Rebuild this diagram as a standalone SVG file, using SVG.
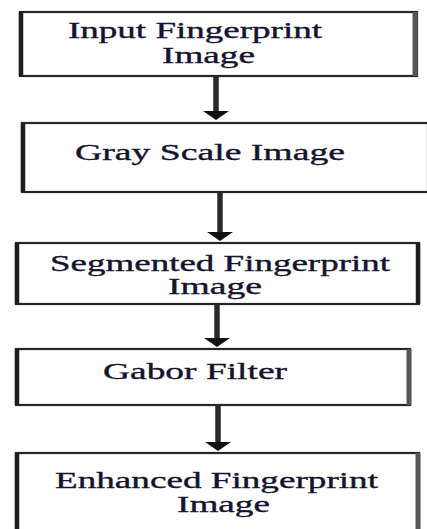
<svg xmlns="http://www.w3.org/2000/svg" width="427" height="529" viewBox="0 0 427 529">
<defs>
<style>
.box{fill:#ffffff;stroke:#262626;stroke-width:2.2}
.lb{stroke:#1e1e1e;stroke-width:4.5}
.rb{stroke:#555555;stroke-width:5}
.lbl{font-family:"Liberation Serif","Times New Roman",serif;font-size:23px;fill:#14142e;stroke:#14142e;stroke-width:0.35}
.shaft{stroke:#2a2a2a;stroke-width:5.5}
.head{fill:#111111}
</style>
</defs>
<rect width="427" height="529" fill="#ffffff"/>
<g id="connectors">
<line class="shaft" x1="216" y1="77" x2="216" y2="112"/>
<polygon class="head" points="203,111 229,111 216,120"/>
<line class="shaft" x1="220" y1="193" x2="220" y2="233"/>
<polygon class="head" points="207,232 233,232 220,241"/>
<line class="shaft" x1="217" y1="305" x2="217" y2="339"/>
<polygon class="head" points="204,338 230,338 217,347"/>
<line class="shaft" x1="218" y1="406" x2="218" y2="443"/>
<polygon class="head" points="205,442 231,442 218,451"/>
</g>
<g id="node1">
<rect class="box" x="20" y="12" width="397" height="64"/>
<line class="lb" x1="21" y1="12" x2="21" y2="76"/>
<line class="rb" x1="415" y1="12" x2="415" y2="76"/>
<text class="lbl" x="68" y="38" textLength="254" lengthAdjust="spacingAndGlyphs">Input Fingerprint</text>
<text class="lbl" x="162" y="63" textLength="93" lengthAdjust="spacingAndGlyphs">Image</text>
</g>
<g id="node2">
<rect class="box" x="22" y="123" width="406" height="69"/>
<line class="lb" x1="23" y1="123" x2="23" y2="192"/>
<text class="lbl" x="75" y="160" textLength="270" lengthAdjust="spacingAndGlyphs">Gray Scale Image</text>
</g>
<g id="node3">
<rect class="box" x="16" y="243" width="403" height="61"/>
<line class="lb" x1="17" y1="243" x2="17" y2="304"/>
<line class="lb" x1="418" y1="243" x2="418" y2="304"/>
<text class="lbl" x="50" y="271" textLength="340" lengthAdjust="spacingAndGlyphs">Segmented Fingerprint</text>
<text class="lbl" x="168" y="294" textLength="94" lengthAdjust="spacingAndGlyphs">Image</text>
</g>
<g id="node4">
<rect class="box" x="16" y="349" width="394" height="56"/>
<line class="lb" x1="17" y1="349" x2="17" y2="405"/>
<line class="rb" x1="409" y1="349" x2="409" y2="405"/>
<text class="lbl" x="103" y="379" textLength="184" lengthAdjust="spacingAndGlyphs">Gabor Filter</text>
</g>
<g id="node5">
<rect class="box" x="16" y="453" width="403" height="90"/>
<line class="lb" x1="17" y1="453" x2="17" y2="535"/>
<line class="rb" x1="418" y1="453" x2="418" y2="535"/>
<text class="lbl" x="55" y="488" textLength="323" lengthAdjust="spacingAndGlyphs">Enhanced Fingerprint</text>
<text class="lbl" x="177" y="512" textLength="93" lengthAdjust="spacingAndGlyphs">Image</text>
</g>
</svg>
